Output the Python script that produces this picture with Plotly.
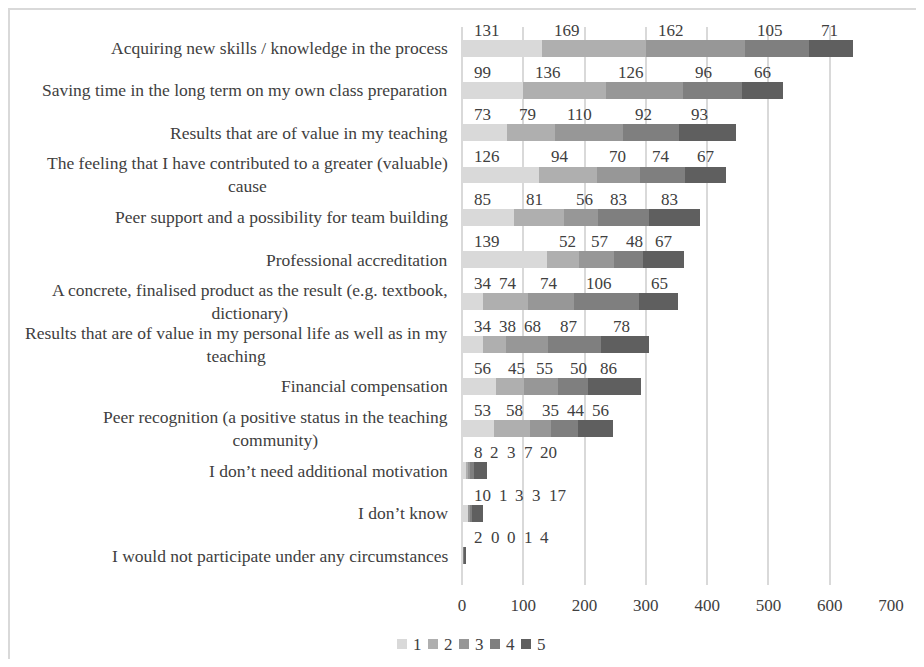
import plotly.graph_objects as go

categories = [
    "Acquiring new skills / knowledge in the process",
    "Saving time in the long term on my own class preparation",
    "Results that are of value in my teaching",
    "The feeling that I have contributed to a greater (valuable)<br>cause",
    "Peer support and a possibility for team building",
    "Professional accreditation",
    "A concrete, finalised product as the result (e.g. textbook,<br>dictionary)",
    "Results that are of value in my personal life as well as in my<br>teaching",
    "Financial compensation",
    "Peer recognition (a positive status in the teaching<br>community)",
    "I don\u2019t need additional motivation",
    "I don\u2019t know",
    "I would not participate under any circumstances",
]
series_names = ["1", "2", "3", "4", "5"]
s1 = [131, 99, 73, 126, 85, 139, 34, 34, 56, 53, 8, 10, 2]
s2 = [169, 136, 79, 94, 81, 52, 74, 38, 45, 58, 2, 1, 0]
s3 = [162, 126, 110, 70, 56, 57, 74, 68, 55, 35, 3, 3, 0]
s4 = [105, 96, 92, 74, 83, 48, 106, 87, 50, 44, 7, 3, 1]
s5 = [71, 66, 93, 67, 83, 67, 65, 78, 86, 56, 20, 17, 4]
series = [s1, s2, s3, s4, s5]
colors = ["#d9d9d9", "#afafaf", "#979797", "#7f7f7f", "#5f5f5f"]
x_ticks = [0, 100, 200, 300, 400, 500, 600, 700]

# page has an 8px body margin, so the figure is sized to fit inside the window
W, H = 908, 651
ML, MR, MT, MB = 454, 25, 19, 74
XMAX = 700
PW, PH = W - ML - MR, H - MT - MB
FONT = "Liberation Serif"
TXT = "#404040"

def px_x(px):
    return (px - ML) / PW

def px_y(py):
    return (H - MB - py) / PH

fig = go.Figure()
for name, vals, col in zip(series_names, series, colors):
    fig.add_trace(go.Bar(
        y=categories, x=vals, name=name, orientation="h",
        marker=dict(color=col, line=dict(width=0)),
        hoverinfo="x+name", showlegend=False,
    ))

# value labels above each segment, left aligned at segment base, pushed right to avoid overlap
px_per_unit = PW / XMAX
annotations = []
shapes = []
for i, cat in enumerate(categories):
    start = 0
    prev_end_px = -1e9
    for vals in series:
        v = vals[i]
        start_px = start * px_per_unit
        label_px = max(start_px + 10, prev_end_px + 8)
        annotations.append(dict(
            x=start, y=cat, xref="x", yref="y", text=str(v), showarrow=False,
            xanchor="left", yanchor="middle", xshift=label_px - start_px, yshift=18,
            font=dict(family=FONT, size=17, color=TXT),
        ))
        prev_end_px = label_px + 8.5 * len(str(v))
        start += v
    # category label
    annotations.append(dict(
        x=0, y=cat, xref="paper", yref="y", text=cat, showarrow=False,
        xanchor="right", yanchor="middle", align="center", xshift=-12,
        font=dict(family=FONT, size=17.5, color=TXT),
    ))

# legend (compact, Excel style): square swatch + series name
LEG_X0, LEG_STEP, LEG_Y = 389, 31, 636
for k, (name, col) in enumerate(zip(series_names, colors)):
    sx = LEG_X0 + LEG_STEP * k
    shapes.append(dict(type="rect", xref="paper", yref="paper",
                       x0=px_x(sx), x1=px_x(sx + 10), y0=px_y(LEG_Y + 5), y1=px_y(LEG_Y - 5),
                       line=dict(width=0), fillcolor=col))
    annotations.append(dict(x=px_x(sx + 14), y=px_y(LEG_Y), xref="paper", yref="paper",
                            text=name, showarrow=False, xanchor="left", yanchor="middle",
                            font=dict(family=FONT, size=17, color=TXT)))

# outer chart border
shapes.append(dict(type="rect", xref="paper", yref="paper",
                   x0=px_x(1), x1=px_x(W + 10), y0=px_y(H + 10), y1=px_y(1),
                   line=dict(color="#d9d9d9", width=2), fillcolor="rgba(0,0,0,0)", layer="below"))

fig.update_layout(
    width=W, height=H,
    margin=dict(l=ML, r=MR, t=MT, b=MB),
    barmode="stack", bargap=0.6,
    paper_bgcolor="white", plot_bgcolor="white",
    font=dict(family=FONT, size=17, color=TXT),
    showlegend=False,
    xaxis=dict(range=[0, XMAX], tickvals=x_ticks, showgrid=True, gridcolor="#d9d9d9",
               gridwidth=1.5, zeroline=True, zerolinecolor="#d9d9d9", zerolinewidth=1.5,
               showline=False, ticks="", ticklabelstandoff=8,
               tickfont=dict(family=FONT, size=17, color=TXT), fixedrange=True),
    yaxis=dict(autorange="reversed", showticklabels=False, showgrid=False, ticks="",
               showline=False, fixedrange=True),
    annotations=annotations,
    shapes=shapes,
)

fig.write_html("out.html")
